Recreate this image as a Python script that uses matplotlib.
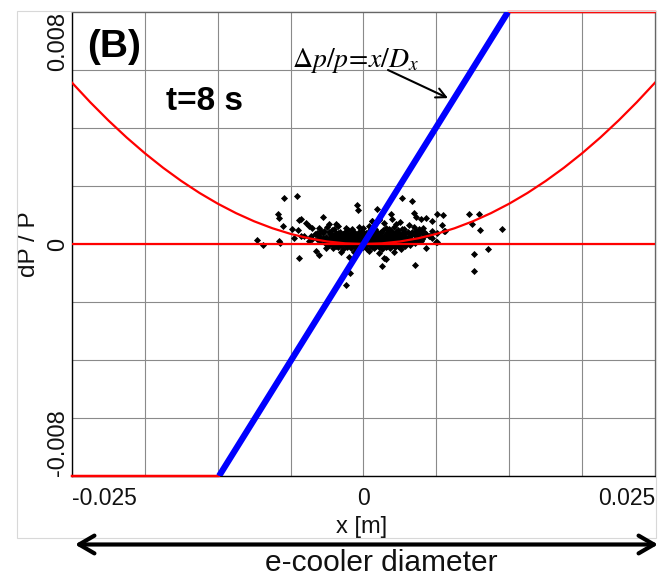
import numpy as np
import matplotlib
matplotlib.use('Agg')
import matplotlib.pyplot as plt
from matplotlib.patches import Rectangle, FancyArrowPatch

plt.rcParams['font.family'] = ['Liberation Sans', 'DejaVu Sans']
plt.rcParams['mathtext.fontset'] = 'stix'

# ---------------- data ----------------
x_lim = (-0.025, 0.025)
y_lim = (-0.008, 0.008)
x_ticks = [-0.025, -0.01875, -0.0125, -0.00625, 0.0, 0.00625, 0.0125, 0.01875, 0.025]
y_ticks = [-0.008, -0.006, -0.004, -0.002, 0.0, 0.002, 0.004, 0.006, 0.008]
x_tick_labels = ['-0.025', '', '', '', '0', '', '', '', '0.025']
y_tick_labels = ['-0.008', '', '', '', '0', '', '', '', '0.008']

# dp/p = x/Dx line (blue) and clipped red copy
line_x = [-0.01239, 0.01239]
line_y = [-0.008, 0.008]
clip_x = [-0.025, -0.01239, 0.01239, 0.025]
clip_y = [-0.008, -0.008, 0.008, 0.008]
zero_x = [-0.025, 0.025]
zero_y = [0.0, 0.0]

# red parabola read at 1/32 grid steps
para_x = [-0.025, -0.0234375, -0.021875, -0.0203125, -0.01875, -0.0171875, -0.015625, -0.0140625,
          -0.0125, -0.0109375, -0.009375, -0.0078125, -0.00625, -0.0046875, -0.003125, -0.0015625, 0.0,
          0.0015625, 0.003125, 0.0046875, 0.00625, 0.0078125, 0.009375, 0.0109375, 0.0125,
          0.0140625, 0.015625, 0.0171875, 0.01875, 0.0203125, 0.021875, 0.0234375, 0.025]
para_y = [0.005563, 0.004889, 0.004259, 0.003672, 0.003129, 0.002629, 0.002173, 0.001760,
          0.001391, 0.001065, 0.000782, 0.000543, 0.000348, 0.000196, 0.000087, 0.000022, 0.0,
          0.000022, 0.000087, 0.000196, 0.000348, 0.000543, 0.000782, 0.001065, 0.001391,
          0.001760, 0.002173, 0.002629, 0.003129, 0.003672, 0.004259, 0.004889, 0.005563]

# particles: x in mm, dP/P in 1e-4
out_x_mm = [-6.80, -5.71, -7.37, -7.22, -6.94, -5.51, -6.09, -5.66, -5.94, -9.17, -8.65, -7.22, -7.17,
            -5.51, -5.34, -3.44, -5.37, -4.94, -4.66, -4.43, -3.80, -3.66, -3.95, -2.95, -5.09, -4.66,
            -4.38, -3.80, -4.09, -3.23, -1.24, -1.47, -1.13, -0.53, -0.47, 1.56, 1.75, 1.90, 3.27, 4.17,
            4.32, 4.46, 4.89, 4.43, 5.37, 5.88, 6.31, 6.82, 7.03, 6.31, 6.69, 9.02, 9.88, 9.30, 9.96,
            11.84, 10.67, 9.45, 9.45, 2.46, 1.75, 5.37, 5.60, 5.88, 6.22, 4.89, 6.88, 2.75, 2.18, 1.18,
            2.33, 0.73, 1.33]
out_dp_e4 = [15.9, 16.7, 10.5, 9.0, 6.2, 8.2, 5.3, 4.7, 2.0, 1.5, -0.5, 1.0, 0.2,
             -4.8, 2.8, 9.3, 8.5, 7.3, 6.2, 5.6, 5.6, 4.5, 3.9, 6.8, 2.8, 1.0,
             1.6, -3.8, -2.4, -1.3, -4.5, -14.1, -9.9, 13.4, 11.7, -7.6, -4.9, -5.3, 16.0, 14.8,
             10.8, 9.3, 8.5, -7.3, 8.9, 7.9, 10.2, 9.9, 4.5, 0.7, 6.5, 10.2, 10.2, 6.8, 4.7,
             5.1, -1.6, -3.5, -9.3, 8.5, 7.3, -1.3, 2.8, 2.2, 0.7, 4.5, 4.5, 6.8, 5.1, 11.9,
             10.2, 7.9, 8.5]

core_x_mm = [
    -2.4, 0.7, 1.3, 3.1, 3.9,
    -3.1, -2.2, -1.5, -0.4, 0.5, 1.9, 2.6, 3.5, 4.3, 5.1,
    -2.5, -1.0, 0.0, 1.0, 2.2, 3.3, 4.8,
    -3.4, -2.7, -2.0, -1.3, -0.8, -0.1, 0.6, 1.2, 1.7, 2.4, 3.0, 3.8, 4.5, 5.2, 5.9,
    -3.0, -2.2, -1.6, -0.4, 0.2, 0.9, 1.5, 2.0, 2.8, 3.4, 4.2, 5.0, 6.3,
    -4.2, -3.5, -2.9, -2.4, -1.8, -1.1, -0.6, 0.0, 0.4, 0.9, 1.4, 1.9, 2.5, 3.1, 3.6, 4.1, 4.8, 5.4,
    -3.9, -1.4, 0.7, 2.2, 4.4, 5.7,
    -2.7, -2.0, -1.6, -0.9, -0.2, 0.3, 1.0, 1.6, 2.0, 2.8, 3.3,
    -4.5, -3.8, -3.2, -2.6, -2.1, -1.6, -1.0, -0.5, -0.1, 0.3, 0.8, 1.2, 1.6, 2.1, 2.6, 3.0, 3.5, 4.0, 4.6, 5.1,
    -2.9, -2.3, -1.8, -1.3, -0.8, -0.3, 0.2, 0.7, 1.1, 1.5, 1.9, 2.4, 2.8, 3.3, 3.8,
    -4.0, -3.5, -3.0, -2.5, -2.0, -1.5, -1.1, -0.7, -0.3, 0.1, 0.5, 0.9, 1.3, 1.7, 2.1, 2.5, 2.9, 3.4, 3.9, 4.4, 5.0,
    -3.4, -2.8, -2.3, -1.6, -1.0, -0.4, 0.0, 0.4, 0.8, 1.2, 1.6, 2.0, 2.4, 2.9, 3.5, 4.1, 4.7,
    -3.7, -3.1, -2.6, -2.2, -1.8, -1.3, -0.9, -0.5, -0.2, 0.2, 0.6, 1.0, 1.4, 1.8, 2.2, 2.7, 3.2, 3.7, 4.2, 4.9,
    -2.5, -2.0, -1.5, -1.0, -0.6, -0.1, 0.3, 0.7, 1.1, 1.5, 1.9, 2.3, 2.8, 3.4,
    -3.3, -2.8, -2.3, -1.7, -1.2, -0.8, -0.4, 0.0, 0.4, 0.8, 1.2, 1.6, 2.0, 2.4, 2.9, 3.3, 3.8, 4.4,
    -2.6, -2.0, -1.5, -1.0, -0.6, -0.2, 0.2, 0.6, 1.0, 1.4, 1.8, 2.2, 2.7, 3.1, 3.5, 4.0,
    -3.0, -2.4, -1.9, -1.4, -0.9, -0.4, 0.1, 0.6, 1.1, 1.5, 2.0, 2.5, 3.0, 3.6,
    -2.2, -1.4, -0.7, 0.0, 0.7, 1.3, 1.9, 2.7,
    -2.6, -1.8, -1.1, -0.5, 0.3, 0.9, 1.6, 2.3, 3.2,
    -1.9, -0.8, 0.5, 1.3, 2.6,
]
core_dp_e4 = [
    7.0, 7.9, 8.4, 7.5, 6.6,
    5.9, 6.1, 5.4, 5.8, 6.3, 5.5, 6.0, 5.2, 5.7, 5.6,
    5.3, 5.1, 5.4, 5.2, 5.0, 5.3, 5.1,
    4.4, 4.9, 4.3, 4.8, 4.1, 4.6, 5.0, 4.3, 4.7, 4.5, 4.9, 4.2, 4.6, 4.0, 4.4,
    4.0, 3.9, 4.2, 4.1, 3.8, 4.2, 4.0, 3.9, 4.1, 3.8, 4.0, 4.2, 3.9,
    3.4, 3.8, 3.3, 3.9, 3.5, 3.7, 3.2, 3.9, 3.4, 3.6, 3.8, 3.3, 3.7, 3.5, 3.9, 3.2, 3.6, 3.4,
    3.0, 3.1, 2.9, 3.2, 3.0, 2.9,
    3.1, 2.9, 3.3, 3.0, 3.2, 2.8, 3.1, 2.9, 3.3, 3.0, 3.1,
    2.6, 2.9, 2.5, 2.8, 3.0, 2.4, 2.7, 2.9, 2.5, 2.8, 2.6, 3.0, 2.4, 2.7, 2.9, 2.5, 2.8, 2.6, 2.9, 2.3,
    2.2, 2.4, 2.1, 2.3, 2.2, 2.4, 2.0, 2.3, 2.2, 2.4, 2.1, 2.3, 2.2, 2.0, 2.3,
    1.7, 2.0, 1.6, 1.9, 1.5, 2.1, 1.8, 1.6, 2.0, 1.7, 1.9, 1.5, 2.1, 1.8, 1.6, 2.0, 1.7, 1.9, 1.5, 1.8, 1.6,
    1.4, 1.3, 1.5, 1.4, 1.6, 1.3, 1.5, 1.4, 1.6, 1.3, 1.5, 1.4, 1.3, 1.5, 1.4, 1.6, 1.3,
    0.9, 1.2, 0.8, 1.1, 1.3, 0.9, 1.0, 1.2, 0.8, 1.1, 1.3, 0.9, 1.0, 1.2, 0.8, 1.1, 1.0, 1.2, 0.9, 1.1,
    0.7, 0.6, 0.8, 0.7, 0.5, 0.8, 0.6, 0.7, 0.9, 0.6, 0.7, 0.8, 0.6, 0.7,
    0.2, 0.4, 0.1, 0.3, 0.5, 0.2, 0.4, 0.0, 0.3, 0.5, 0.1, 0.4, 0.2, 0.3, 0.5, 0.1, 0.3, 0.2,
    -0.2, -0.1, -0.3, -0.2, -0.1, -0.3, -0.2, -0.1, -0.3, -0.2, -0.1, -0.3, -0.2, -0.1, -0.3, -0.2,
    -0.5, -0.8, -0.4, -0.7, -0.5, -0.9, -0.6, -0.4, -0.8, -0.5, -0.7, -0.4, -0.6, -0.8,
    -1.1, -1.0, -1.2, -1.1, -1.0, -1.2, -1.1, -1.0,
    -1.5, -1.8, -1.4, -1.9, -1.6, -1.3, -1.7, -1.5, -1.8,
    -2.6, -2.9, -2.5, -3.0, -2.7,
]

part_x = np.array(core_x_mm + out_x_mm) * 1e-3
part_y = np.array(core_dp_e4 + out_dp_e4) * 1e-4

# ---------------- figure ----------------
W, H = 661, 576
fig = plt.figure(figsize=(W / 100, H / 100), dpi=100)
fig.patch.set_facecolor('white')
ax = fig.add_axes([72 / W, 1 - 476 / H, 583 / W, 464 / H])

# light outer frame
fig.patches.append(Rectangle((17 / W, 1 - 538 / H), (656 - 17) / W, (538 - 11) / H,
                             transform=fig.transFigure, fill=False,
                             edgecolor='#d8d8d8', lw=0.8, zorder=0))

ax.scatter(part_x, part_y, marker='D', s=13, color='black', linewidths=0, zorder=2)
ax.plot(zero_x, zero_y, color='#ff0000', lw=1.6, zorder=3)
ax.plot(para_x, para_y, color='#ff0000', lw=1.6, zorder=3)
ax.plot(clip_x, clip_y, color='#ff0000', lw=1.8, zorder=3, clip_on=False)
ax.plot(line_x, line_y, color='#0000ff', lw=4.5, zorder=4, solid_capstyle='butt')

ax.set_xlim(*x_lim)
ax.set_ylim(*y_lim)
ax.set_xticks(x_ticks)
ax.set_yticks(y_ticks)
ax.set_xticklabels(x_tick_labels, fontsize=16.5, color='#111111')
ax.set_yticklabels(y_tick_labels, fontsize=17, color='#111111', rotation=90)
ax.tick_params(axis='x', length=0, pad=8)
ax.tick_params(axis='y', length=0, pad=2)
xl = ax.get_xticklabels()
xl[0].set_ha('left')
xl[-1].set_ha('right')
yl = ax.get_yticklabels()
for t in yl:
    t.set_va('center')
yl[0].set_va('bottom')
yl[-1].set_va('top')

ax.grid(True, color='#8a8a8a', lw=0.8)
ax.set_axisbelow(True)
for side in ['top', 'right']:
    ax.spines[side].set_color('#606060')
    ax.spines[side].set_linewidth(0.9)
for side in ['left', 'bottom']:
    ax.spines[side].set_color('#000000')
    ax.spines[side].set_linewidth(1.0)

ax.set_xlabel('x [m]', fontsize=17, color='#111111', va='center')
ax.xaxis.set_label_coords(0.497, (476 - 527) / 464)
ax.set_ylabel('dP / P', fontsize=17.5, color='#111111', va='center')
ax.yaxis.set_label_coords((28.5 - 72) / 583, 0.5)

# annotations
ax.text((87 - 72) / 583, (476 - 57) / 464, '(B)', transform=ax.transAxes,
        fontsize=28, fontweight='bold', ha='left', va='baseline')
ax.text((166 - 72) / 583, (476 - 110) / 464, 't=8 s', transform=ax.transAxes,
        fontsize=24, fontweight='bold', ha='left', va='baseline')
ax.text((292 - 72) / 583, (476 - 67) / 464, r'$\Delta p/p\!=\!x/D_x$', transform=ax.transAxes,
        fontsize=20, ha='left', va='baseline')
ax.annotate('', xy=(0.00725, 0.00503), xytext=(0.0021, 0.0060), xycoords='data',
            arrowprops=dict(arrowstyle='->,head_length=0.5,head_width=0.25', color='black',
                            lw=1.5, mutation_scale=14, shrinkA=0, shrinkB=0), zorder=5)

# e-cooler diameter arrow
ya = 1 - 544.5 / H
fig.add_artist(FancyArrowPatch(
    (75 / W, ya), (658 / W, ya), transform=fig.transFigure,
    arrowstyle='<->,head_length=0.55,head_width=0.32', mutation_scale=20,
    color='black', lw=3.0, shrinkA=0, shrinkB=0))
fig.text(381 / W, 1 - 571 / H, 'e-cooler diameter', fontsize=21.5, ha='center', va='baseline',
         color='#111111')

fig.savefig('out.png', dpi=100, facecolor='white')
